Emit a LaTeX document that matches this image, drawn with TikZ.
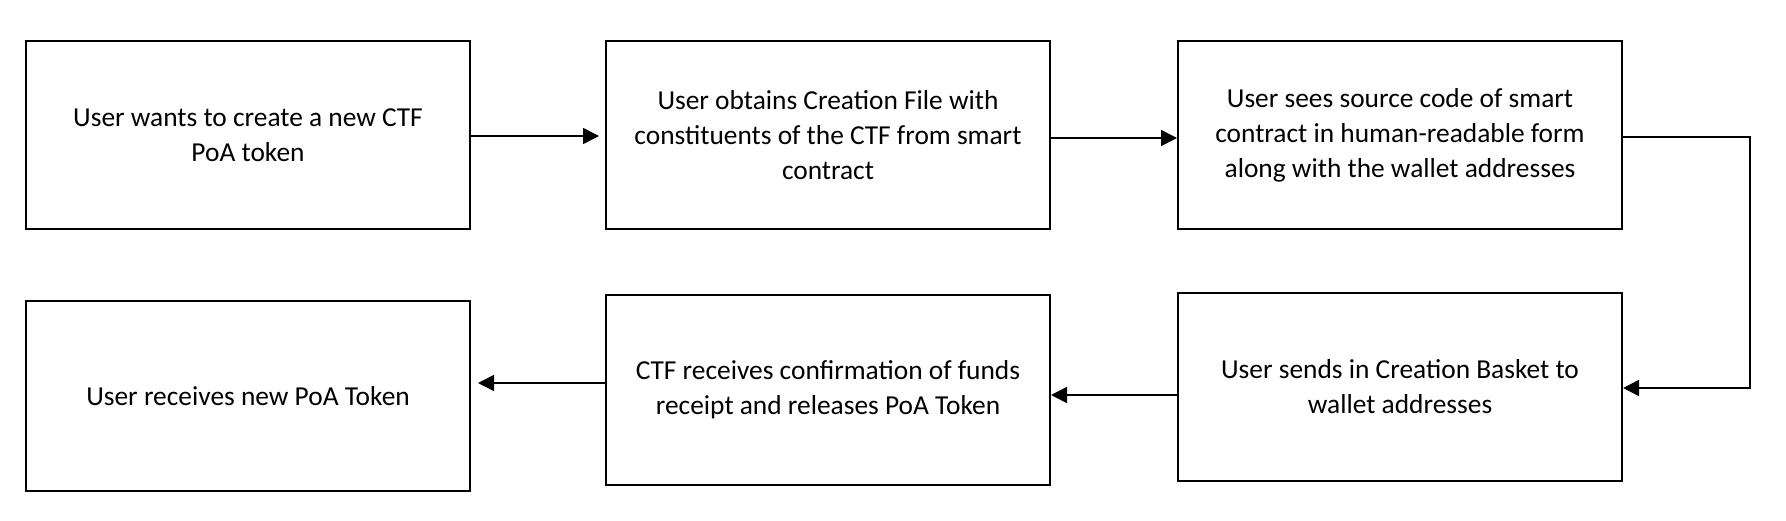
\documentclass[tikz,border=0pt]{standalone}
\usepackage{fontspec}
\setmainfont{Carlito}
\usetikzlibrary{arrows.meta,calc}
\begin{document}
\begin{tikzpicture}[x=0.5pt,y=-0.5pt,
  box/.style={draw=black,line width=1pt,minimum width=222pt,minimum height=94pt,
    align=center,inner sep=0pt,font=\fontsize{13.7}{17.5}\selectfont},
  arr/.style={line width=0.8pt,-{Triangle[length=8pt,width=8pt]}}]
\useasboundingbox (0,0) rectangle (1786,520);
\node[box] (b1) at (248,135) {User wants to create a new CTF\\PoA token};
\node[box] (b2) at (828,135) {User obtains Creation File with\\constituents of the CTF from smart\\contract};
\node[box] (b3) at (1400,135) {User sees source code of smart\\contract in human-readable form\\along with the wallet addresses};
\node[box,minimum height=95pt] (b4) at (248,396) {User receives new PoA Token};
\node[box,minimum height=95pt] (b5) at (828,390) {CTF receives confirmation of funds\\receipt and releases PoA Token};
\node[box] (b6) at (1400,387) {User sends in Creation Basket to\\wallet addresses};
\coordinate (c1) at (1750,137);
\coordinate (c2) at (1750,388);
\draw[arr,shorten >=3pt] (b1.east |- 0,136) -- (b2.west |- 0,136);
\draw[arr] (b2.east |- 0,138) -- (b3.west |- 0,138);
\draw[arr] (b3.east |- c1) -- (c1) -- (c2) -- (b6.east |- c2);
\draw[arr] (b6.west |- 0,395) -- (b5.east |- 0,395);
\draw[arr,shorten >=3.5pt] (b5.west |- 0,383) -- (b4.east |- 0,383);
\end{tikzpicture}
\end{document}
